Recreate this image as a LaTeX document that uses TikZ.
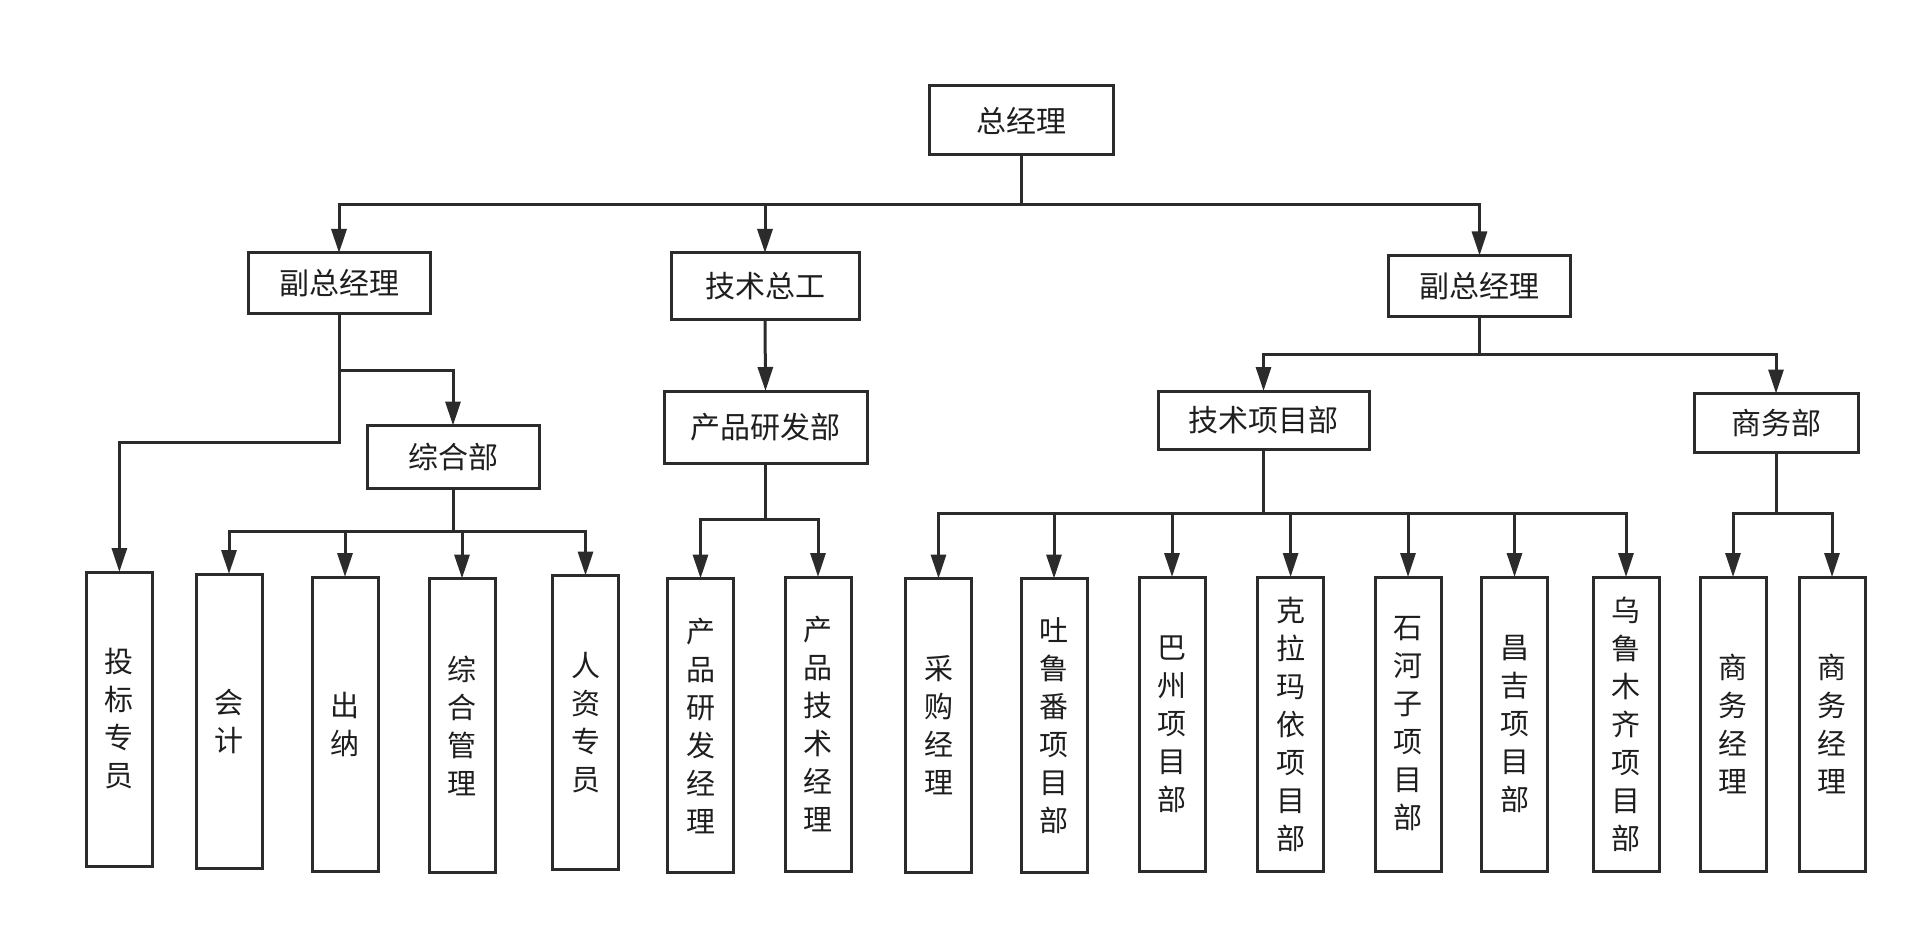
\documentclass[tikz,border=0pt]{standalone}
\usepackage{fontspec}
\setmainfont{Noto Sans CJK SC}
\usetikzlibrary{arrows.meta}
\definecolor{ln}{HTML}{2B2B2B}
\definecolor{tx}{HTML}{1E1E1E}
\tikzset{
  box/.style={draw=ln, line width=3pt, fill=white, inner sep=0pt, outer sep=0pt,
    text=tx, font=\fontsize{30}{36}\selectfont},
  vbox/.style={box, minimum width=66pt, minimum height=294pt, align=center,
    font=\fontsize{29}{38}\selectfont},
  conn/.style={draw=ln, line width=3pt},
  arr/.style={conn, -{Triangle[length=24pt,width=15pt]}}
}
\begin{document}
\begin{tikzpicture}[x=1pt,y=-1pt]
\useasboundingbox (0,0) rectangle (1920,928);
% top levels
\node[box, minimum width=184pt, minimum height=69pt] (ceo) at (1021,120.5) {总经理};
\node[box, minimum width=182pt, minimum height=60pt] (vp1) at (339,283) {副总经理};
\node[box, minimum width=188pt, minimum height=66pt] (cto) at (765,286) {技术总工};
\node[box, minimum width=182pt, minimum height=61pt] (vp2) at (1479.5,286) {副总经理};
\node[box, minimum width=172pt, minimum height=63pt] (zh) at (453,457) {综合部};
\node[box, minimum width=203pt, minimum height=72pt] (rd) at (765.5,427) {产品研发部};
\node[box, minimum width=211pt, minimum height=58pt] (tp) at (1263.5,420) {技术项目部};
\node[box, minimum width=164pt, minimum height=59pt] (sw) at (1776,423) {商务部};
% bottom boxes
\node[vbox] (tb) at (119.4,719) {投\\标\\专\\员};
\node[vbox] (kj) at (229,721) {会\\计};
\node[vbox] (cn) at (345,724) {出\\纳};
\node[vbox] (zg) at (462,725.5) {综\\合\\管\\理};
\node[vbox] (rz) at (585.5,722.5) {人\\资\\专\\员};
\node[vbox] (rdm) at (700.5,725.5) {产\\品\\研\\发\\经\\理};
\node[vbox] (ptm) at (818,724) {产\\品\\技\\术\\经\\理};
\node[vbox] (cg) at (938.5,725.5) {采\\购\\经\\理};
\node[vbox] (tlf) at (1054,725.5) {吐\\鲁\\番\\项\\目\\部};
\node[vbox] (bz) at (1172,724) {巴\\州\\项\\目\\部};
\node[vbox] (klmy) at (1290.6,724) {克\\拉\\玛\\依\\项\\目\\部};
\node[vbox] (shz) at (1408,724) {石\\河\\子\\项\\目\\部};
\node[vbox] (cj) at (1514.5,724) {昌\\吉\\项\\目\\部};
\node[vbox] (wlmq) at (1626,724) {乌\\鲁\\木\\齐\\项\\目\\部};
\node[vbox] (sm1) at (1733,724) {商\\务\\经\\理};
\node[vbox] (sm2) at (1832,724) {商\\务\\经\\理};
% junction coordinates
\coordinate (b0) at (1021,205);
\coordinate (j1) at (339,370);
\coordinate (j2) at (339,442);
\coordinate (bzh) at (453,531);
\coordinate (brd) at (765.5,519);
\coordinate (bvp2) at (1479.5,354);
\coordinate (btp) at (1263.5,513);
\coordinate (bsw) at (1776,513);
% connectors
\draw[conn] (ceo.south) -- (b0);
\draw[arr] (b0) -| (vp1.north);
\draw[arr] (b0) -| (cto.north);
\draw[arr] (b0) -| (vp2.north);
\draw[arr] (vp1.south) -- (j1) -| (zh.north);
\draw[arr] (vp1.south) -- (j2) -| (tb.north);
\draw[arr] (cto.south) -- (rd.north);
\draw[conn] (zh.south) -- (bzh);
\foreach \n in {kj,cn,zg,rz} \draw[arr] (bzh) -| (\n.north);
\draw[conn] (rd.south) -- (brd);
\foreach \n in {rdm,ptm} \draw[arr] (brd) -| (\n.north);
\draw[conn] (vp2.south) -- (bvp2);
\draw[arr] (bvp2) -| (tp.north);
\draw[arr] (bvp2) -| (sw.north);
\draw[conn] (tp.south) -- (btp);
\foreach \n in {cg,tlf,bz,klmy,shz,cj,wlmq} \draw[arr] (btp) -| (\n.north);
\draw[conn] (sw.south) -- (bsw);
\foreach \n in {sm1,sm2} \draw[arr] (bsw) -| (\n.north);
\end{tikzpicture}
\end{document}
